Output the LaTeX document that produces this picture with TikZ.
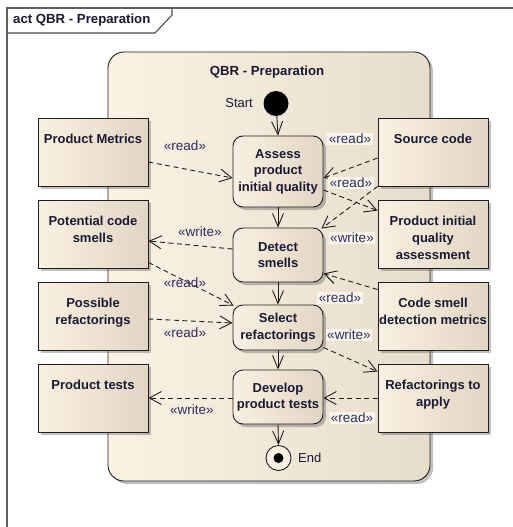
\documentclass[tikz,border=0pt]{standalone}
\usepackage{fontspec}
\setmainfont{Liberation Sans}
\usetikzlibrary{arrows.meta,shadows}
\definecolor{framecol}{RGB}{95,95,95}
\definecolor{txtcol}{RGB}{25,25,50}
\definecolor{lblcol}{RGB}{45,45,90}
\definecolor{regL}{RGB}{252,242,228}
\definecolor{regR}{RGB}{231,221,204}
\definecolor{objL}{RGB}{250,240,225}
\definecolor{objR}{RGB}{225,214,197}
\definecolor{lblbg}{RGB}{250,245,237}
\definecolor{linecol}{RGB}{30,30,30}
\tikzset{
  shad/.style={drop shadow={shadow xshift=3pt,shadow yshift=-3pt,opacity=0.35,fill=black!70}},
  regionbox/.style={draw=linecol,line width=0.9pt,rounded corners=16pt,left color=regL,right color=regR,shad,minimum width=322pt,minimum height=429pt,inner sep=0pt},
  objbox/.style={draw=linecol,line width=0.9pt,left color=objL,right color=objR,shad,minimum width=110pt,minimum height=68pt,inner sep=0pt},
  objtext/.style={font=\fontsize{13}{17}\selectfont\bfseries,text=txtcol,align=center,anchor=north,inner sep=0pt},
  actbox/.style={draw=linecol,line width=0.9pt,rounded corners=10pt,left color=objL,right color=objR,shad,minimum width=90pt,inner sep=0pt,
    font=\fontsize{13}{16.5}\selectfont\bfseries,text=txtcol,align=center},
  lbl/.style={font=\fontsize{13.5}{15}\selectfont,text=lblcol,inner sep=1.5pt},
  lblbox/.style={lbl,fill=lblbg},
  plain/.style={font=\fontsize{13}{15}\selectfont,text=txtcol,inner sep=0pt},
  flow/.style={draw=linecol,line width=0.9pt,dash pattern=on 5pt off 3.5pt,-{Straight Barb[length=12pt,width=13pt]}},
  ctrl/.style={draw=linecol,line width=0.9pt,-{Straight Barb[length=13pt,width=11pt]}},
}
\begin{document}
\begin{tikzpicture}[x=1pt,y=-1pt]
\useasboundingbox (0,0) rectangle (513,527);
% frame
\draw[framecol,line width=1.8pt] (7,527) -- (7,8) -- (513,8);
\draw[linecol!80,line width=1.1pt] (7,33) -- (155,33) -- (172,15) -- (172,8);
\node[plain,font=\fontsize{13.2}{15}\selectfont\bfseries,anchor=west] (frametitle) at (13,20) {act QBR - Preparation};
% region
\node[regionbox] (region) at (269,266.5) {};
\node[plain,font=\fontsize{13.2}{15}\selectfont\bfseries] (regiontitle) at (267,72) {QBR - Preparation};
% start / end
\node[circle,fill=black,minimum size=25pt,inner sep=0pt] (start) at (276,103.5) {};
\node[plain,anchor=east] (startlbl) at (253,103.5) {Start};
\node[circle,draw=linecol,line width=0.9pt,fill=regL,minimum size=25pt,inner sep=0pt] (end) at (278.5,458) {};
\node[circle,fill=black,minimum size=10pt,inner sep=0pt] (enddot) at (end.center) {};
\node[plain,anchor=west] (endlbl) at (298,458) {End};
% actions
\node[actbox,minimum height=71pt] (assess) at (278,171.5) {Assess\\product\\initial quality};
\node[actbox,minimum height=54pt] (detect) at (278,255) {Detect\\smells};
\node[actbox,minimum height=45pt] (select) at (278,327.5) {Select\\refactorings};
\node[actbox,minimum height=54pt] (develop) at (278,397) {Develop\\product tests};
% left objects
\node[objbox] (pm) at (93,152) {};
\node[objtext] (pmt) at (93,134) {Product Metrics};
\node[objbox] (pcs) at (93,234) {};
\node[objtext] (pcst) at (93,216) {Potential code\\smells};
\node[objbox] (pr) at (93,316) {};
\node[objtext] (prt) at (93,298) {Possible\\refactorings};
\node[objbox] (pt) at (93,398) {};
\node[objtext] (ptt) at (93,380) {Product tests};
% right objects
\node[objbox] (sc) at (433,152) {};
\node[objtext] (sct) at (433,134) {Source code};
\node[objbox] (piqa) at (433,234) {};
\node[objtext] (piqat) at (433,216) {Product initial\\quality\\assessment};
\node[objbox] (csdm) at (433,316) {};
\node[objtext] (csdmt) at (433,298) {Code smell\\detection metrics};
\node[objbox] (rta) at (433,398) {};
\node[objtext] (rtat) at (433,380) {Refactorings to\\apply};
% control flows
\draw[ctrl] (start) -- (assess.north);
\draw[ctrl] (assess.south) -- (detect.north);
\draw[ctrl] (detect.south) -- (select.north);
\draw[ctrl] (select.south) -- (develop.north);
\draw[ctrl] (develop.south) -- (end.north);
% object flows
\draw[flow] ([yshift=-10pt]pm.east) -- ([yshift=-6.5pt]assess.west);
\draw[flow] ([yshift=-6pt]sc.west) -- ([yshift=-6.5pt]assess.east);
\draw[flow] ([yshift=-18.5pt]assess.east) -- ([yshift=-11pt]piqa.north west);
\draw[flow] (sc.south west) -- ([xshift=-2pt,yshift=-1pt]detect.north east);
\draw[flow] ([yshift=6pt]detect.west) -- ([yshift=-7pt]pcs.east);
\draw[flow] ([yshift=-8pt]csdm.north west) -- ([yshift=9pt]detect.south east);
\draw[flow] ([yshift=6pt]pcs.south east) -- ([xshift=1pt,yshift=-1pt]select.north west);
\draw[flow] ([yshift=-3pt]pr.east) -- ([yshift=4.5pt]select.west);
\draw[flow] ([yshift=-20pt]select.east) -- ([yshift=-8pt]rta.north west);
\draw[flow] (rta.west) -- ([yshift=-1pt]develop.east);
\draw[flow] ([yshift=-1pt]develop.west) -- (pt.east);
% labels
\node[lbl] (l1) at (185,146) {«read»};
\node[lblbox] (l2) at (350,139) {«read»};
\node[lblbox] (l3) at (351,183) {«read»};
\node[lblbox] (l4) at (352,238) {«write»};
\node[lbl] (l5) at (200,232) {«write»};
\node[lblbox] (l6) at (340,298) {«read»};
\node[lbl] (l7) at (185,283) {«read»};
\node[lbl] (l8) at (185,333) {«read»};
\node[lblbox] (l9) at (349,335) {«write»};
\node[lblbox] (l10) at (352,418) {«read»};
\node[lbl] (l11) at (192,410) {«write»};
\end{tikzpicture}
\end{document}
